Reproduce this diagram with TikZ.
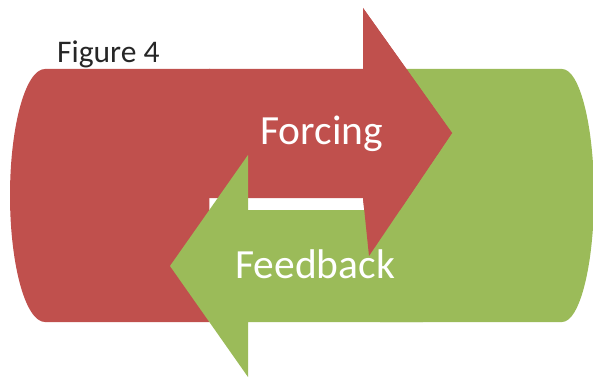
\documentclass[tikz,border=0pt]{standalone}
\usepackage{fontspec}
\setmainfont{Carlito}
\definecolor{offred}{HTML}{C0504D}
\definecolor{offgreen}{HTML}{9BBB59}
\tikzset{
  redfill/.style={fill=offred, draw=none},
  greenfill/.style={fill=offgreen, draw=none},
  bigtext/.style={text=white, font=\fontsize{41.5}{41.5}\selectfont, anchor=base west, inner sep=0pt},
  captext/.style={text=black!85, font=\fontsize{31.5}{31.5}\selectfont, anchor=base west, inner sep=0pt}
}
\begin{document}
\begin{tikzpicture}[x=1pt,y=-1pt]
\useasboundingbox (0,0) rectangle (593,379);
% left red half-cylinder
\path[redfill] (210,69) -- (45,69) arc[start angle=270, end angle=90, x radius=35, y radius=126.5] -- (209,322) -- cycle;
% right green half-cylinder
\path[greenfill] (380,69) -- (562,69) arc[start angle=270, end angle=450, x radius=32, y radius=126.5] -- (380,322) -- cycle;
% red forcing arrow
\path[redfill] (209,69) -- (363,69) -- (363,8) -- (452,133) -- (369,256) -- (363,198) -- (209,198) -- cycle;
% green feedback arrow
\path[greenfill] (423,210) -- (248,210) -- (248,155) -- (170,266) -- (248,377) -- (248,322) -- (423,322) -- cycle;
% red arrow head over the green body
\path[redfill] (363,8) -- (452,133) -- (369,256) -- (363,198) -- cycle;
% texts
\node[captext] (fig) at (57,63) {Figure 4};
\node[bigtext] (forcing) at (260,145) {Forcing};
\node[bigtext] (feedback) at (235,278) {Feedback};
\end{tikzpicture}
\end{document}
